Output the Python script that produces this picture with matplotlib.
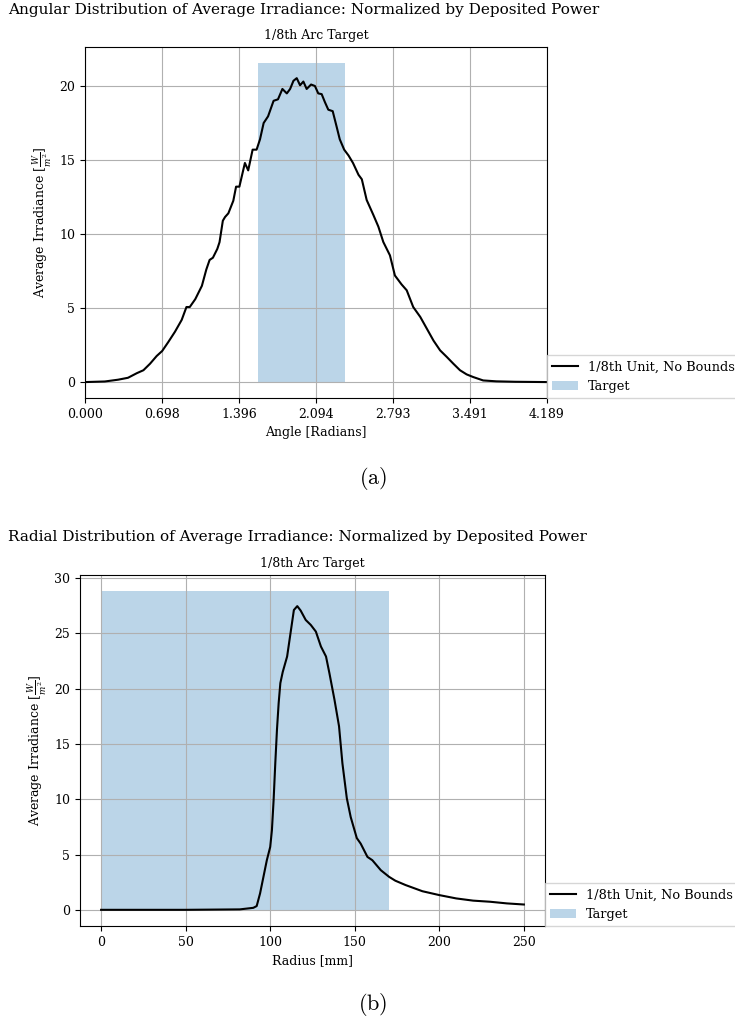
import numpy as np
import matplotlib
matplotlib.use("Agg")
import matplotlib.pyplot as plt

plt.rcParams['font.family'] = ['DejaVu Serif']
plt.rcParams['mathtext.fontset'] = 'dejavuserif'

# ---- Angular data ----
ang = [0.00, 0.18, 0.30, 0.39, 0.47, 0.53, 0.59, 0.65, 0.70, 0.755, 0.816, 0.877, 0.92, 0.95,
       1.00, 1.06, 1.10, 1.13, 1.16, 1.20, 1.22, 1.25, 1.27, 1.30, 1.345, 1.37, 1.40, 1.45,
       1.48, 1.52, 1.556, 1.587, 1.62, 1.66, 1.71, 1.75, 1.79, 1.83, 1.86, 1.89, 1.92, 1.95,
       1.98, 2.01, 2.05, 2.085, 2.115, 2.146, 2.176, 2.206, 2.246, 2.28, 2.31, 2.35, 2.39,
       2.43, 2.48, 2.51, 2.554, 2.614, 2.66, 2.705, 2.765, 2.81, 2.87, 2.917, 2.976, 3.04,
       3.10, 3.16, 3.22, 3.28, 3.34, 3.40, 3.46, 3.52, 3.61, 3.73, 3.90, 4.189]
ang_irr = [0.0, 0.04, 0.16, 0.29, 0.6, 0.8, 1.24, 1.76, 2.1, 2.7, 3.4, 4.2, 5.07, 5.07,
           5.6, 6.5, 7.6, 8.25, 8.4, 9.0, 9.45, 10.9, 11.15, 11.4, 12.25, 13.2, 13.2, 14.8,
           14.3, 15.7, 15.7, 16.4, 17.5, 17.95, 19.0, 19.1, 19.8, 19.5, 19.8, 20.35, 20.53, 20.05,
           20.3, 19.8, 20.1, 20.0, 19.5, 19.45, 18.9, 18.4, 18.3, 17.3, 16.4, 15.7, 15.3,
           14.8, 14.0, 13.7, 12.3, 11.3, 10.5, 9.46, 8.56, 7.2, 6.6, 6.2, 5.07, 4.4,
           3.6, 2.8, 2.14, 1.7, 1.24, 0.8, 0.52, 0.34, 0.11, 0.05, 0.02, 0.0]
ang_target = [np.pi / 2, 3 * np.pi / 4]
ang_ticks = np.linspace(0, 4 * np.pi / 3, 7)

# ---- Radial data ----
rad = [0, 50, 82, 90, 92, 94, 96, 98, 100, 101, 102, 103, 104, 105, 106, 107.4, 110, 112,
       114, 116, 118, 121, 124, 127, 130, 133, 135, 138, 140.7, 142.7, 145.3, 147.6, 151.2,
       153.5, 157.5, 160.4, 165.4, 170.3, 174, 180, 190, 200, 210, 220, 230, 240, 250]
rad_irr = [0.02, 0.02, 0.06, 0.2, 0.36, 1.5, 3.0, 4.5, 5.7, 7.2, 9.9, 13.25, 16.3, 18.7, 20.5,
           21.5, 22.9, 25.0, 27.1, 27.45, 27.05, 26.2, 25.75, 25.15, 23.8, 22.9, 21.4, 19.0,
           16.6, 13.25, 10.1, 8.4, 6.5, 6.0, 4.8, 4.5, 3.6, 3.0, 2.65, 2.26, 1.7, 1.35, 1.05,
           0.85, 0.75, 0.6, 0.5]
rad_target = [0, 170]

fig = plt.figure(figsize=(7.35, 10.24), dpi=100)

ax1 = fig.add_axes([0.1156, 0.6113, 0.6286, 0.3428])
ax2 = fig.add_axes([0.1088, 0.0957, 0.6327, 0.3428])

def draw(ax, x, y, tgt, xlabel):
    ax.plot(x, y, color='black', lw=1.5, label='1/8th Unit, No Bounds')
    h = 1.05 * max(y)
    bars = ax.bar(tgt[0], h, width=tgt[1] - tgt[0], align='edge', color='C0', alpha=0.3,
                  label='Target')
    for p in bars:
        p.sticky_edges.y.clear()
        p.sticky_edges.x.clear()
    ax.grid(True)
    ax.set_title('1/8th Arc Target', fontsize=9)
    ax.set_xlabel(xlabel, fontsize=9)
    ax.set_ylabel(r'Average Irradiance [$\frac{W}{m^2}$]', fontsize=9)
    ax.tick_params(labelsize=9)
    ax.legend(loc='lower left', bbox_to_anchor=(1.0, 0.0), fontsize=9.3, fancybox=False,
              borderaxespad=0)

draw(ax1, ang, ang_irr, ang_target, 'Angle [Radians]')
ax1.set_xlim(0, 4 * np.pi / 3)
ax1.set_xticks(ang_ticks)
ax1.set_xticklabels([f'{t:.3f}' for t in ang_ticks])

draw(ax2, rad, rad_irr, rad_target, 'Radius [mm]')

fig.text(8 / 735, 1 - 10 / 1024,
         'Angular Distribution of Average Irradiance: Normalized by Deposited Power',
         fontsize=11, ha='left', va='center')
fig.text(8 / 735, 1 - 537 / 1024,
         'Radial Distribution of Average Irradiance: Normalized by Deposited Power',
         fontsize=11, ha='left', va='center')
fig.text(373 / 735, 1 - 478 / 1024, r'$\mathrm{(a)}$', fontsize=16, ha='center', va='center',
         math_fontfamily='cm')
fig.text(373 / 735, 1 - 1005 / 1024, r'$\mathrm{(b)}$', fontsize=16, ha='center', va='center',
         math_fontfamily='cm')

fig.savefig('out.png', dpi=100)
